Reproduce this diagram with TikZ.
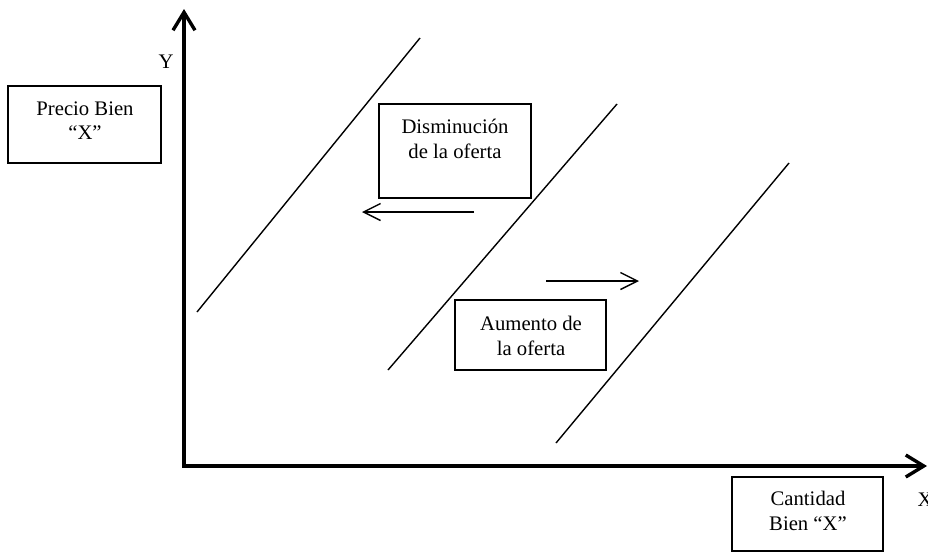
\documentclass[tikz,border=0pt]{standalone}
\usepackage{fontspec}
\setmainfont{Liberation Serif}
\usetikzlibrary{positioning,arrows.meta}
\tikzset{>={Straight Barb[length=17pt,width=17pt]}}

\begin{document}
\begin{tikzpicture}[x=1pt,y=-1pt,
                    caja/.style={draw,line width=1.5pt,inner sep=0},
                    rotulo/.style={align=center,inner sep=0,font=\fontsize{20.7}{24.2}\selectfont},
                    eje/.style={line width=3.4pt,arrows={Straight Barb[length=18pt,width=22pt]-Straight Barb[length=18pt,width=22pt]}},
                    curva/.style={line width=1.4pt},
        ]
        \useasboundingbox (0,0) rectangle (928,552);
%
        \coordinate (o) at (184,466);
        \coordinate (ytop) at (184,9);
        \coordinate (xend) at (927,466);
        \draw[eje] (ytop) -- (o) -- (xend);
        \node[rotulo] (ylab) at (166,62) {Y};
        \node[rotulo] (xlab) at (925,500) {X};
%
        \node[caja,minimum width=153pt,minimum height=77pt] (precio) at (84.5,124.5) {};
        \node[rotulo] (preciotxt) at (85,120.5) {Precio Bien\\``X''};
        \node[caja,minimum width=152pt,minimum height=94pt] (dism) at (455,151) {};
        \node[rotulo] (dismtxt) at (455,139) {Disminución\\de la oferta};
        \node[caja,minimum width=151pt,minimum height=70pt] (aum) at (530.5,335) {};
        \node[rotulo] (aumtxt) at (531,336) {Aumento de\\la oferta};
        \node[caja,minimum width=151pt,minimum height=74pt] (cant) at (807.5,514) {};
        \node[rotulo] (canttxt) at (808,511) {Cantidad\\Bien ``X''};
%
        \draw[curva] (197,312) -- (420,38);
        \draw[curva] (388,370) -- (617,104);
        \draw[curva] (556,443) -- (789,163);
%
        \coordinate (d1) at (474,212);
        \coordinate (d2) at (362,212);
        \coordinate (a1) at (546,281);
        \coordinate (a2) at (639,281);
        \path[->,line width=1.4pt]
            (d1) edge (d2)
            (a1) edge (a2)
            ;
    \end{tikzpicture}
\end{document}
